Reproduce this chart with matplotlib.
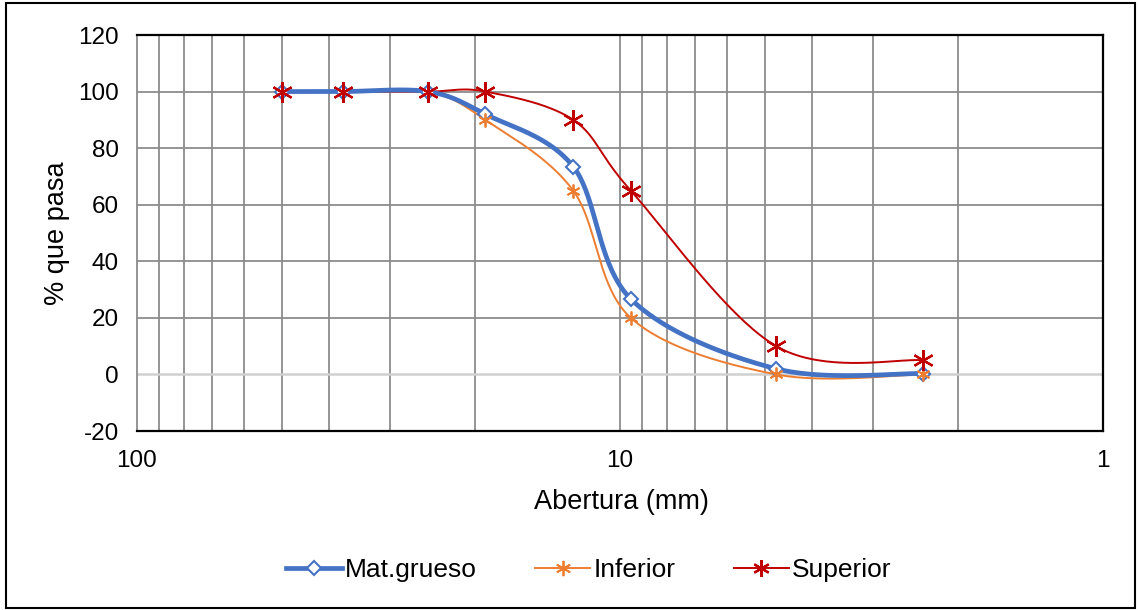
import numpy as np
import matplotlib
matplotlib.use("Agg")
import matplotlib.pyplot as plt
from matplotlib.lines import Line2D
from matplotlib.patches import Rectangle

plt.rcParams['font.family'] = ['Liberation Sans', 'DejaVu Sans']

# Data
aberturas = [50, 37.5, 25, 19, 12.5, 9.5, 4.75, 2.36]
mat_grueso = [100, 100, 100, 92, 73.5, 26.7, 2, 0.3]
inferior = [100, 100, 100, 90, 65, 20, 0, 0]
superior = [100, 100, 100, 100, 90, 65, 10, 5]
series_names = ["Mat.grueso", "Inferior", "Superior"]
y_ticks = [-20, 0, 20, 40, 60, 80, 100, 120]
x_ticks = [100, 10, 1]

FS_TICK = 17.5
FS_TITLE = 19.5
FS_LEG = 19
W, H = 1139, 610
fig = plt.figure(figsize=(W / 100, H / 100), dpi=100)
ax = fig.add_axes([137 / W, 1 - 431 / H, (1103 - 137) / W, (431 - 35) / H])

ax.set_xscale('log')
ax.set_xlim(100, 1)
ax.set_ylim(-20, 120)

# grid
for v in list(range(2, 10)) + list(range(20, 100, 10)):
    ax.axvline(v, color='#8c8c8c', lw=1.3, zorder=1)
ax.axvline(10, color='#8c8c8c', lw=1.3, zorder=1)
for v in y_ticks[2:-1]:
    ax.axhline(v, color='#8c8c8c', lw=1.3, zorder=1)
ax.axhline(0, color='#d0d0d0', lw=1.8, zorder=1)

for s in ['top', 'bottom', 'right']:
    ax.spines[s].set_color('black')
    ax.spines[s].set_linewidth(1.6)
ax.spines['left'].set_color('#8c8c8c')
ax.spines['left'].set_linewidth(1.3)

ax.set_yticks(y_ticks)
ax.set_yticklabels([str(v) for v in y_ticks])
ax.set_xticks(x_ticks)
ax.set_xticklabels([str(v) for v in x_ticks])
ax.xaxis.set_minor_locator(matplotlib.ticker.NullLocator())
ax.tick_params(axis='both', length=0, labelsize=FS_TICK, colors='black')
ax.tick_params(axis='x', pad=14)
ax.tick_params(axis='y', pad=13)

fig.text(621 / W, 1 - 502 / H, "Abertura (mm)", fontsize=FS_TITLE, ha='center', va='center')
fig.text(57 / W, 1 - 233 / H, "% que pasa", fontsize=FS_TITLE, ha='center', va='center',
         rotation=90)

fig.canvas.draw()


def smooth(xs, ys, n=40):
    pts = ax.transData.transform(np.column_stack([xs, ys]))
    m = len(pts)
    out = []
    for i in range(m - 1):
        p0 = pts[i - 1] if i > 0 else pts[i]
        p1 = pts[i]
        p2 = pts[i + 1]
        p3 = pts[i + 2] if i + 2 < m else pts[i + 1]
        c1 = p1 + (p2 - p0) / 6.0
        c2 = p2 - (p3 - p1) / 6.0
        t = np.linspace(0, 1, n)[:, None]
        seg = ((1 - t) ** 3) * p1 + 3 * ((1 - t) ** 2) * t * c1 + 3 * (1 - t) * t ** 2 * c2 + t ** 3 * p2
        out.append(seg if i == 0 else seg[1:])
    out = np.vstack(out)
    d = ax.transData.inverted().transform(out)
    return d[:, 0], d[:, 1]


styles = [
    dict(color='#4472C4', lw=3.4, marker='D', ms=7, mfc='white', mec='#4472C4', mew=1.5),
    dict(color='#ED7D31', lw=1.4, marker=(6, 2, 0), ms=10, mfc='#ED7D31', mec='#ED7D31', mew=1.3),
    dict(color='#C00000', lw=1.4, marker=(6, 2, 0), ms=15, mfc='#C00000', mec='#C00000', mew=1.6),
]
datas = [mat_grueso, inferior, superior]
handles = []
for i in range(3):
    st = styles[i]
    sx, sy = smooth(aberturas, datas[i])
    z = 3 if i == 0 else 2
    ax.plot(sx, sy, color=st['color'], lw=st['lw'], zorder=z, solid_capstyle='round')
for i in range(3):
    st = styles[i]
    ax.plot(aberturas, datas[i], ls='none', marker=st['marker'], ms=st['ms'],
            mfc=st['mfc'], mec=st['mec'], mew=st['mew'], zorder=4 + i, clip_on=False)
leg_ms = [7.5, 11, 12]
for i in range(3):
    st = styles[i]
    handles.append(Line2D([], [], color=st['color'], lw=st['lw'], marker=st['marker'],
                          ms=leg_ms[i], mfc=st['mfc'], mec=st['mec'], mew=st['mew']))

fig.legend(handles, series_names, loc='center', bbox_to_anchor=(589 / W, 1 - 570 / H),
           ncol=3, frameon=False, fontsize=FS_LEG, handlelength=2.1, columnspacing=2.2,
           handletextpad=0.12)

fig.patches.append(Rectangle((6 / W, 2 / H), (1135 - 6) / W, (607 - 2) / H,
                             transform=fig.transFigure, fill=False, ec='black', lw=1.5))

fig.savefig("out.png", dpi=100)
